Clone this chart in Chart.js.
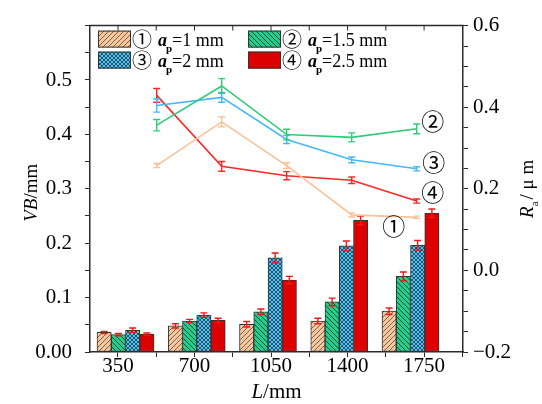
<!DOCTYPE html>
<html><head><meta charset="utf-8">
<script src="https://cdn.jsdelivr.net/npm/chart.js@4/dist/chart.umd.min.js"></script>
<style>html,body{margin:0;padding:0;background:#fff}#wrap{width:542px;height:404px}</style>
</head><body><div id="wrap"><canvas id="c" width="542" height="404"></canvas></div>
<script>
// ---------- data ----------
const categories = [350, 700, 1050, 1400, 1750];
const xTickLabels = ['350', '700', '1050', '1400', '1750'];
const circled = ['①', '②', '③', '④'];
const depthLabels = ['1', '1.5', '2', '2.5'];
const vbTickValues = [0, 0.1, 0.2, 0.3, 0.4, 0.5];
const raTickValues = [-0.2, 0, 0.2, 0.4, 0.6];

const vbAp1  = [0.036, 0.048, 0.051, 0.057, 0.075];
const vbAp15 = [0.032, 0.057, 0.074, 0.092, 0.139];
const vbAp2  = [0.040, 0.068, 0.173, 0.195, 0.196];
const vbAp25 = [0.033, 0.058, 0.132, 0.242, 0.255];
const vbErr1  = [0.002, 0.004, 0.005, 0.005, 0.006];
const vbErr15 = [0.002, 0.003, 0.005, 0.007, 0.008];
const vbErr2  = [0.004, 0.004, 0.009, 0.009, 0.009];
const vbErr25 = [0.002, 0.004, 0.007, 0.008, 0.008];

const raAp1  = [0.257, 0.364, 0.257, 0.136, 0.130];
const raAp15 = [0.356, 0.452, 0.333, 0.326, 0.347];
const raAp2  = [0.404, 0.424, 0.321, 0.271, 0.249];
const raAp25 = [0.429, 0.255, 0.232, 0.221, 0.170];
const raErr1  = [0.005, 0.012, 0.007, 0.005, 0.003];
const raErr15 = [0.014, 0.018, 0.013, 0.011, 0.012];
const raErr2  = [0.016, 0.012, 0.010, 0.007, 0.005];
const raErr25 = [0.017, 0.012, 0.010, 0.008, 0.005];

// ---------- styles ----------
const SERIF = '"Liberation Serif","Times New Roman","DejaVu Serif","Noto Sans CJK SC",serif';
const CIRC = '"Noto Sans CJK SC","DejaVu Sans",sans-serif';
const AXIS = '#2b2b2b';
const barFill = ['#F6C79C', '#1FCF8B', '#55C2EE', '#DC0000'];
const barHatchColor = ['#6a5644', '#123d2c', '#1d4a66', null];
const barHatchKind = ['fwd', 'back', 'cross', 'none'];
const lineColors = ['#F9C196', '#2FCB78', '#45B6FF', '#FF2626'];
const barErrColor = '#F01818';
const labelOffsets = [[-23, 9], [16, -8], [17, -7], [16, -9]];
// bar axis range (in L units); each bar in a group is shifted by one bar width (70 units)
const barAxisMin = 175.6, barAxisMax = 2007.9, barSlot = 70, barPx = 14.25;

function makePattern(bg, fg, kind, size) {
  if (kind === 'none') return bg;
  const c = document.createElement('canvas'); c.width = c.height = size;
  const g = c.getContext('2d');
  g.fillStyle = bg; g.fillRect(0, 0, size, size);
  g.strokeStyle = fg; g.lineWidth = 0.9;
  const ln = (a, b, d, e) => { g.beginPath(); g.moveTo(a, b); g.lineTo(d, e); g.stroke(); };
  for (let k = -1; k <= 1; k++) {
    if (kind === 'fwd' || kind === 'cross') ln(k * size, size, k * size + size, 0);
    if (kind === 'back' || kind === 'cross') ln(k * size, 0, k * size + size, size);
  }
  return g.createPattern(c, 'repeat');
}
const barPatterns = barFill.map((f, i) => makePattern(f, barHatchColor[i], barHatchKind[i], barHatchKind[i] === 'cross' ? 4 : 5));

const vbSeries = [vbAp1, vbAp15, vbAp2, vbAp25];
const vbErrs = [vbErr1, vbErr15, vbErr2, vbErr25];
const raSeries = [raAp1, raAp15, raAp2, raAp25];
const raErrs = [raErr1, raErr15, raErr2, raErr25];

const datasets = [];
raSeries.forEach((s, i) => datasets.push({
  type: 'line', label: 'Ra ' + circled[i], xAxisID: 'xl', yAxisID: 'yR', order: 0,
  data: categories.map((c, j) => ({ x: c, y: s[j] })),
  errors: raErrs[i], errColor: lineColors[i], capHalf: 3.5,
  borderColor: lineColors[i], borderWidth: 1.6, pointRadius: 0, tension: 0, fill: false,
  annot: circled[i], annotOffset: labelOffsets[i]
}));
vbSeries.forEach((s, i) => datasets.push({
  type: 'bar', label: 'VB ' + circled[i], xAxisID: 'xb' + i, yAxisID: 'y', order: 1,
  data: categories.map((c, j) => ({ x: c, y: s[j] })),
  errors: vbErrs[i], errColor: barErrColor, capHalf: 3.5,
  backgroundColor: barPatterns[i], borderColor: '#333', borderWidth: 1,
  borderSkipped: false, barThickness: barPx, grouped: false
}));

function stepTicks(lo, hi, step) {
  const out = []; const n = Math.round((hi - lo) / step);
  for (let k = 0; k <= n; k++) out.push({ value: +(lo + k * step).toFixed(4) });
  return out;
}
const near = (v, list) => list.some(t => Math.abs(t - v) < 1e-6);

const errorBars = {
  id: 'errorBars',
  afterDatasetDraw(chart, args) {
    const ds = chart.data.datasets[args.index];
    if (!ds.errors) return;
    const ys = chart.scales[ds.yAxisID];
    const c = chart.ctx; c.save();
    c.strokeStyle = ds.errColor; c.lineWidth = 1.4;
    args.meta.data.forEach((el, j) => {
      const v = ds.data[j].y, e = ds.errors[j];
      const x = el.x, t = ys.getPixelForValue(v + e), b = ys.getPixelForValue(v - e);
      c.beginPath();
      c.moveTo(x, t); c.lineTo(x, b);
      c.moveTo(x - ds.capHalf, t); c.lineTo(x + ds.capHalf, t);
      c.moveTo(x - ds.capHalf, b); c.lineTo(x + ds.capHalf, b);
      c.stroke();
    });
    c.restore();
  }
};

function rich(c, x, y, runs) {
  for (const r of runs) {
    c.font = r.font; c.fillText(r.t, x, y + (r.dy || 0));
    x += c.measureText(r.t).width + (r.dx || 0);
  }
  return x;
}

const decor = {
  id: 'decor',
  afterDraw(chart) {
    const c = chart.ctx, a = chart.chartArea;
    c.save();
    c.strokeStyle = AXIS; c.lineWidth = 1.5;
    c.beginPath(); c.moveTo(a.left - 0.75, a.top); c.lineTo(a.right + 0.75, a.top); c.stroke();
    c.lineWidth = 1;
    const xs = chart.scales.x;
    xs.ticks.forEach(t => {
      const px = xs.getPixelForValue(t.value);
      if (px > a.left + 2 && px < a.right - 2) { c.beginPath(); c.moveTo(px, a.top); c.lineTo(px, a.top + 5); c.stroke(); }
    });
    c.fillStyle = '#000'; c.textBaseline = 'alphabetic';
    const legendCols = [a.left + 8, a.left + 158];
    const legendRows = [a.top + 5, a.top + 26];
    [0, 1, 2, 3].forEach(i => {
      const bx = legendCols[i % 2], by = legendRows[Math.floor(i / 2)];
      c.fillStyle = barPatterns[i]; c.fillRect(bx, by, 33, 17);
      c.strokeStyle = '#333'; c.lineWidth = 1; c.strokeRect(bx + 0.5, by + 0.5, 32, 16);
      c.fillStyle = '#000';
      const base = by + 15;
      rich(c, bx + 34, base, [
        { t: circled[i], font: '20px ' + CIRC, dx: 6, dy: 1 },
        { t: 'a', font: 'italic bold 18px ' + SERIF, dx: -1 },
        { t: 'p', font: 'bold 11px ' + SERIF, dy: 6, dx: 0 },
        { t: '=' + depthLabels[i] + ' mm', font: '18px ' + SERIF }
      ]);
    });
    chart.data.datasets.forEach((ds, i) => {
      if (!ds.annot) return;
      const meta = chart.getDatasetMeta(i), el = meta.data[meta.data.length - 1];
      c.font = '23px ' + CIRC; c.textAlign = 'center'; c.textBaseline = 'middle';
      c.fillText(ds.annot, el.x + ds.annotOffset[0], el.y + ds.annotOffset[1]);
    });
    c.textAlign = 'left'; c.textBaseline = 'alphabetic';
    const midY = (a.top + a.bottom) / 2;
    c.save(); c.translate(37, midY + 4); c.rotate(-Math.PI / 2);
    const runsL = [{ t: 'VB', font: 'italic 19px ' + SERIF }, { t: '/mm', font: '19px ' + SERIF }];
    let w = 0; runsL.forEach(r => { c.font = r.font; w += c.measureText(r.t).width; });
    rich(c, -w / 2, 0, runsL);
    c.restore();
    c.save(); c.translate(533, midY); c.rotate(-Math.PI / 2);
    const runsR = [{ t: 'R', font: 'italic 19px ' + SERIF }, { t: 'a', font: '11px ' + SERIF, dy: 5, dx: 2 }, { t: '/ μ m', font: '19px ' + SERIF }];
    let wr = 0; runsR.forEach(r => { c.font = r.font; wr += c.measureText(r.t).width + (r.dx || 0); });
    rich(c, -wr / 2, 0, runsR);
    c.restore();
    const runsB = [{ t: 'L', font: 'italic 21px ' + SERIF }, { t: '/mm', font: '21px ' + SERIF }];
    let wb = 0; runsB.forEach(r => { c.font = r.font; wb += c.measureText(r.t).width; });
    rich(c, (a.left + a.right) / 2 - wb / 2, 398, runsB);
    c.restore();
  }
};

const scales = {
  xl: { type: 'linear', display: false, offset: false, min: -9.2, max: 1999.3,
    afterBuildTicks: s => { s.ticks = categories.map(v => ({ value: v })); } },
  x: { type: 'linear', position: 'bottom', offset: false, min: 222, max: 1928,
    afterBuildTicks: s => { s.ticks = stepTicks(175, 1925, 175).filter(t => t.value >= 222 && t.value <= 1928); },
    afterFit: s => { s.height = 52; },
    border: { display: true, color: AXIS, width: 1.5 },
    grid: { drawOnChartArea: false, drawTicks: true, tickLength: 5, color: AXIS, offset: false },
    ticks: { font: { family: SERIF, size: 21 }, color: '#000', padding: -3, maxRotation: 0, autoSkip: false,
      callback: v => { const i = categories.indexOf(v); return i >= 0 ? xTickLabels[i] : ''; } } },
  y: { type: 'linear', position: 'left', min: 0, max: 0.6,
    afterBuildTicks: s => { s.ticks = stepTicks(0, 0.6, 0.05); },
    afterFit: s => { s.width = 90; },
    border: { display: true, color: AXIS, width: 1.5 },
    grid: { drawOnChartArea: false, drawTicks: true, tickLength: 5, color: AXIS },
    ticks: { font: { family: SERIF, size: 21 }, color: '#000', padding: 13, autoSkip: false,
      callback: v => near(v, vbTickValues) ? (Math.abs(v) < 1e-9 ? '0.00' : v.toFixed(1)) : '' } },
  yR: { type: 'linear', position: 'right', min: -0.2, max: 0.6,
    afterBuildTicks: s => { s.ticks = stepTicks(-0.2, 0.6, 0.05); },
    afterFit: s => { s.width = 79; },
    border: { display: true, color: AXIS, width: 1.5 },
    grid: { drawOnChartArea: false, drawTicks: true, tickLength: 5, color: AXIS },
    ticks: { font: { family: SERIF, size: 21 }, color: '#000', padding: 5, autoSkip: false,
      callback: v => near(v, raTickValues) ? (v < 0 ? '\u2212' + Math.abs(v).toFixed(1) : v.toFixed(1)) : '' } }
};
[0, 1, 2, 3].forEach(i => {
  const shift = (i - 1.5) * barSlot;
  scales['xb' + i] = { type: 'linear', display: false, offset: false,
    min: barAxisMin - shift, max: barAxisMax - shift,
    afterBuildTicks: s => { s.ticks = categories.map(v => ({ value: v })); } };
});

new Chart(document.getElementById('c'), {
  type: 'bar',
  data: { datasets },
  plugins: [errorBars, decor],
  options: {
    responsive: false, animation: false, devicePixelRatio: 1,
    layout: { padding: { top: 16, left: 0, right: 0, bottom: 0 } },
    plugins: { legend: { display: false }, tooltip: { enabled: false } },
    scales
  }
});
</script></body></html>
